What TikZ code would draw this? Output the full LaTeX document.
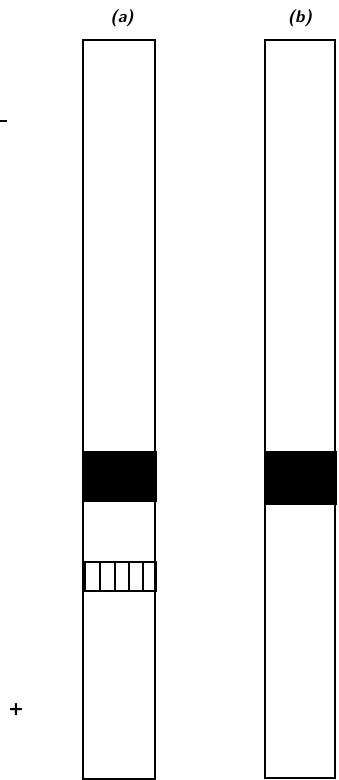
\documentclass[tikz,border=0pt]{standalone}
\usepackage{fontspec}
\newfontfamily\signfont{DejaVu Sans}
\usetikzlibrary{calc}

\begin{document}
\begin{tikzpicture}[x=1pt,y=-1pt,font=\sffamily\bfseries\itshape]
  \useasboundingbox (0,0) rectangle (338,780);

  \node[font=\sffamily\bfseries\itshape\fontsize{17}{20}\selectfont] (labA) at (122,18) {(a)};
  \node[font=\sffamily\bfseries\itshape\fontsize{17}{20}\selectfont] (labB) at (300,18) {(b)};

  % electrode signs
  \draw[line width=2.6pt] (0,121) -- (7,121);
  \node[font=\signfont\bfseries\fontsize{19}{22}\selectfont, inner sep=0pt] (plus) at (16,710) {+};

  % strip (a)
  \draw[fill=black, line width=1.2pt] (84,452) rectangle (156,501);
  \draw[line width=1.3pt] (83,40) rectangle (155,779);
  \draw[line width=1.1pt] (85,562) rectangle (156,591);
  \foreach \x in {100,115,129,143} {
    \draw[line width=1.1pt] (\x,562) -- (\x,591);
  }

  % strip (b)
  \draw[fill=black, line width=1.2pt] (266,452) rectangle (336,504);
  \draw[line width=1.3pt] (265,40) rectangle (335,778);
\end{tikzpicture}
\end{document}
